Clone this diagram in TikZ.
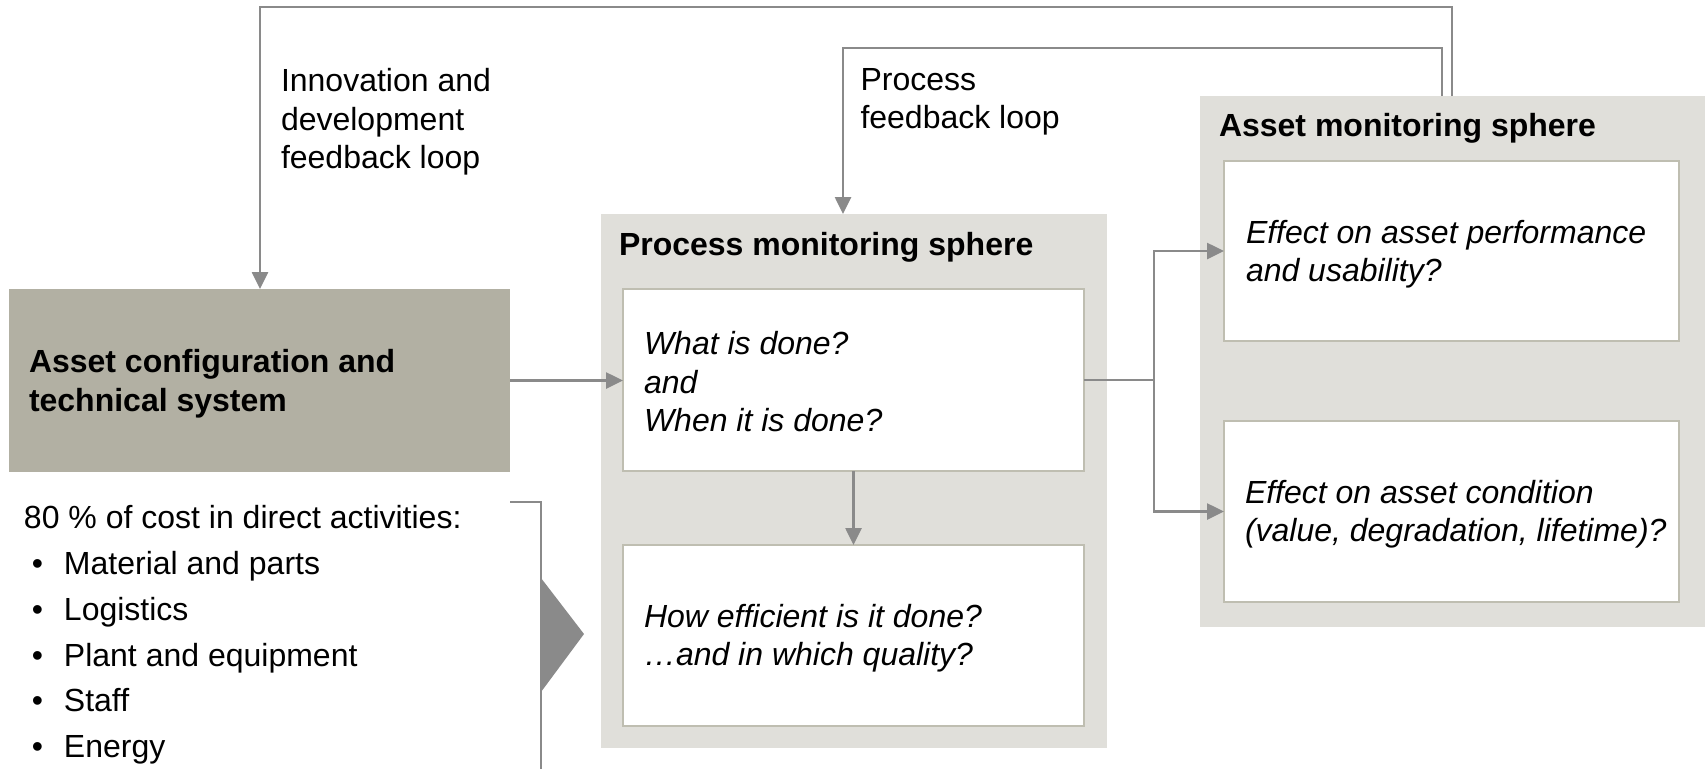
\documentclass[tikz,border=0pt]{standalone}
\usepackage{fontspec}
\setmainfont{Liberation Sans}
\usetikzlibrary{arrows.meta}

\definecolor{spherefill}{RGB}{224,223,218}
\definecolor{configfill}{RGB}{178,176,163}
\definecolor{boxframe}{RGB}{191,190,177}
\definecolor{linkgray}{RGB}{138,138,138}

\begin{document}
\begin{tikzpicture}[x=0.5pt,y=-0.5pt,
  every node/.style={inner sep=0pt, outer sep=0pt},
  txt/.style={font=\fontsize{16}{19.25}\selectfont, align=left, text=black},
  heading/.style={font=\fontsize{16}{19.25}\selectfont\bfseries, text=black},
  sphere/.style={rectangle, fill=spherefill},
  question/.style={rectangle, fill=white, draw=boxframe, line width=1pt},
  configbox/.style={rectangle, fill=configfill},
  link/.style={draw=linkgray, line width=1.3pt},
  arrowlink/.style={link, -{Triangle[length=8.5pt,width=8pt]}}
]
\useasboundingbox (0,0) rectangle (1705,768);

% monitoring spheres
\node[sphere, minimum width=253pt, minimum height=267pt] (psph) at (854,481) {};
\node[sphere, minimum width=255pt, minimum height=265.5pt] (asph) at (1455,361.5) {};

% asset configuration block
\node[configbox, minimum width=250.5pt, minimum height=91.5pt] (cfg) at (259.5,380.5) {};
\node[txt, font=\fontsize{16}{19.25}\selectfont\bfseries, anchor=west] (cfgtext)
  at (29,383.5) {Asset configuration and\\technical system};

% process monitoring sphere
\node[heading, anchor=base west] (ptitle) at (619,255) {Process monitoring sphere};
\node[question, minimum width=230.5pt, minimum height=91pt] (p1) at (853.5,380) {};
\node[question, minimum width=230.5pt, minimum height=90.5pt] (p2) at (853.5,635.5) {};
\node[txt, font=\fontsize{16}{19.25}\selectfont\itshape, anchor=west] (p1text)
  at (644,382) {What is done?\\and\\When it is done?};
\node[txt, font=\fontsize{16}{19.25}\selectfont\itshape, anchor=west] (p2text)
  at (644,638) {How efficient is it done?\\…and in which quality?};

% asset monitoring sphere
\node[heading, anchor=base west] (atitle) at (1219,136) {Asset monitoring sphere};
\node[question, minimum width=227.5pt, minimum height=90pt] (a1) at (1451.5,251) {};
\node[question, minimum width=227.5pt, minimum height=90.5pt] (a2) at (1451.5,511.5) {};
\node[txt, font=\fontsize{16}{19.25}\selectfont\itshape, anchor=west] (a1text)
  at (1246,254) {Effect on asset performance\\and usability?};
\node[txt, font=\fontsize{16}{19.25}\selectfont\itshape, anchor=west] (a2text)
  at (1245,514) {Effect on asset condition\\(value, degradation, lifetime)?};

% feedback loop labels
\node[txt, anchor=west] (innov) at (281,122) {Innovation and\\development\\feedback loop};
\node[txt, anchor=west] (procfb) at (860.5,102) {Process\\feedback loop};

% cost list
\node[txt, font=\fontsize{16}{22.9}\selectfont, anchor=west] (costs) at (24,635)
  {80 \% of cost in direct activities:\\
   \hspace*{4pt}\makebox[16pt][l]{•}Material and parts\\
   \hspace*{4pt}\makebox[16pt][l]{•}Logistics\\
   \hspace*{4pt}\makebox[16pt][l]{•}Plant and equipment\\
   \hspace*{4pt}\makebox[16pt][l]{•}Staff\\
   \hspace*{4pt}\makebox[16pt][l]{•}Energy};

% bracket and pointer of the cost list
\coordinate (bk) at (541,502);
\coordinate (bkend) at (541,780);
\draw[link] (cfg.east |- bk) -- (bk) -- (bkend);
\fill[linkgray] (541,578) -- (584,634) -- (541,692) -- cycle;

% flow connectors
\draw[arrowlink] (cfg.east) -- (cfg.east -| p1.west);
\draw[arrowlink] (p1.south) -- (p2.north);
\coordinate (split) at (1154,380);
\draw[link] (p1.east) -- (split);
\draw[arrowlink] (split) |- (a1.west);
\draw[arrowlink] (split) |- (a2.west);

% feedback loops
\coordinate (outerR) at (1452,7);
\coordinate (outerL) at (260,7);
\draw[arrowlink] (asph.north -| outerR) -- (outerR) -- (outerL) -- (outerL |- cfg.north);
\coordinate (innerR) at (1442,48);
\coordinate (innerL) at (843,48);
\draw[arrowlink] (asph.north -| innerR) -- (innerR) -- (innerL) -- (innerL |- psph.north);
\end{tikzpicture}
\end{document}
